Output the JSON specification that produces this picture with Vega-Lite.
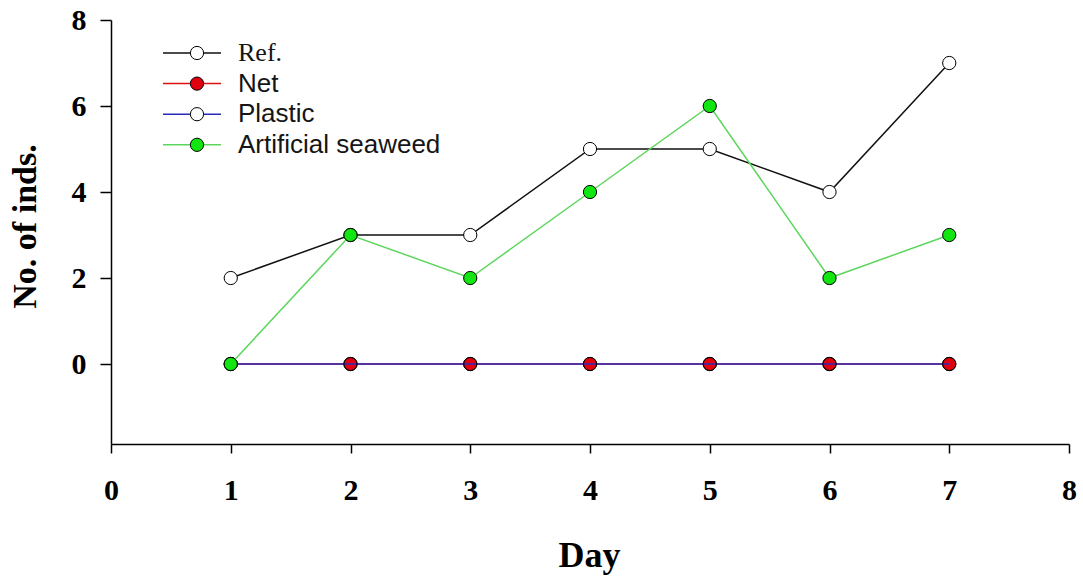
{
  "$schema": "https://vega.github.io/schema/vega-lite/v6.json",
  "autosize": {"type": "none"},
  "width": 958,
  "height": 424,
  "padding": {"left": 111, "top": 20, "right": 14, "bottom": 132},
  "background": "white",
  "config": {
    "view": {"stroke": null},
    "axis": {
      "grid": false,
      "domainColor": "black",
      "domainWidth": 1.5,
      "tickColor": "black",
      "tickWidth": 1.5,
      "labelFont": "Liberation Serif",
      "labelFontWeight": "bold",
      "labelFontSize": 30,
      "labelColor": "black",
      "titleFont": "Liberation Serif",
      "titleFontWeight": "bold",
      "titleColor": "black"
    }
  },
  "data": {
    "values": [
      {"day": 1, "count": 2, "series": "Ref."},
      {"day": 2, "count": 3, "series": "Ref."},
      {"day": 3, "count": 3, "series": "Ref."},
      {"day": 4, "count": 5, "series": "Ref."},
      {"day": 5, "count": 5, "series": "Ref."},
      {"day": 6, "count": 4, "series": "Ref."},
      {"day": 7, "count": 7, "series": "Ref."},
      {"day": 1, "count": 0, "series": "Net"},
      {"day": 2, "count": 0, "series": "Net"},
      {"day": 3, "count": 0, "series": "Net"},
      {"day": 4, "count": 0, "series": "Net"},
      {"day": 5, "count": 0, "series": "Net"},
      {"day": 6, "count": 0, "series": "Net"},
      {"day": 7, "count": 0, "series": "Net"},
      {"day": 1, "count": 0, "series": "Plastic"},
      {"day": 2, "count": 0, "series": "Plastic"},
      {"day": 3, "count": 0, "series": "Plastic"},
      {"day": 4, "count": 0, "series": "Plastic"},
      {"day": 5, "count": 0, "series": "Plastic"},
      {"day": 6, "count": 0, "series": "Plastic"},
      {"day": 7, "count": 0, "series": "Plastic"},
      {"day": 1, "count": 0, "series": "Artificial seaweed"},
      {"day": 2, "count": 3, "series": "Artificial seaweed"},
      {"day": 3, "count": 2, "series": "Artificial seaweed"},
      {"day": 4, "count": 4, "series": "Artificial seaweed"},
      {"day": 5, "count": 6, "series": "Artificial seaweed"},
      {"day": 6, "count": 2, "series": "Artificial seaweed"},
      {"day": 7, "count": 3, "series": "Artificial seaweed"}
    ]
  },
  "encoding": {
    "x": {
      "field": "day",
      "type": "quantitative",
      "scale": {"domain": [0, 8], "nice": false, "zero": false},
      "axis": {
        "title": "Day",
        "titleFontSize": 36,
        "titleX": 478,
        "titleY": 122,
        "titleBaseline": "alphabetic",
        "titleAlign": "center",
        "values": [0, 1, 2, 3, 4, 5, 6, 7, 8],
        "format": "d",
        "tickSize": 9,
        "labelPadding": 22,
        "labelFlush": false,
        "labelOverlap": false
      }
    },
    "y": {
      "field": "count",
      "type": "quantitative",
      "scale": {"domain": [-1.86, 8], "nice": false, "zero": false},
      "axis": {
        "title": "No. of inds.",
        "titleFontSize": 34,
        "titleAngle": -90,
        "titleX": -76,
        "titleY": 206,
        "titleBaseline": "alphabetic",
        "titleAlign": "center",
        "values": [0, 2, 4, 6, 8],
        "format": "d",
        "tickSize": 11,
        "labelPadding": 14,
        "labelFlush": false,
        "labelOverlap": false
      }
    }
  },
  "layer": [
    {
      "transform": [{"filter": "datum.series === 'Ref.' || datum.series === 'Net'"}],
      "mark": {"type": "line", "strokeWidth": 1.5},
      "encoding": {
        "stroke": {
          "field": "series",
          "type": "nominal",
          "scale": {
            "domain": ["Ref.", "Net", "Plastic", "Artificial seaweed"],
            "range": ["#111111", "#dd1111", "#2a2abb", "#5cd65c"]
          },
          "legend": {
            "title": null,
            "orient": "none",
            "legendX": 51,
            "legendY": 20,
            "padding": 0,
            "symbolType": "stroke",
            "symbolSize": 3364,
            "symbolStrokeWidth": 1.5,
            "clipHeight": 26,
            "rowPadding": 4.6,
            "labelOffset": 16,
            "labelLimit": 400,
            "labelFont": "Liberation Sans",
            "labelFontSize": 26,
            "labelColor": "#151515",
            "encode": {
              "labels": {
                "update": {
                  "font": {"signal": "datum.label === 'Ref.' ? 'Liberation Serif' : 'Liberation Sans'"}
                }
              }
            }
          }
        }
      }
    },
    {
      "transform": [{"filter": "datum.series === 'Ref.' || datum.series === 'Net'"}],
      "mark": {"type": "point", "shape": "circle", "filled": true, "size": 175, "stroke": "black", "strokeWidth": 1, "opacity": 1},
      "encoding": {
        "fill": {
          "field": "series",
          "type": "nominal",
          "scale": {
            "domain": ["Ref.", "Net", "Plastic", "Artificial seaweed"],
            "range": ["white", "#e00010", "white", "#11e611"]
          },
          "legend": {
            "title": null,
            "orient": "top-left",
            "offset": 20,
            "padding": 0,
            "symbolType": "circle",
            "symbolSize": 175,
            "symbolStrokeColor": "black",
            "symbolStrokeWidth": 1,
            "symbolOffset": 53,
            "clipHeight": 26,
            "rowPadding": 4.6,
            "labelFontSize": 26,
            "labelExpr": "''"
          }
        }
      }
    },
    {
      "transform": [{"filter": "datum.series === 'Plastic'"}],
      "mark": {"type": "line", "strokeWidth": 1.5},
      "encoding": {"stroke": {"field": "series", "type": "nominal"}}
    },
    {
      "transform": [{"filter": "datum.series === 'Plastic'"}],
      "mark": {"type": "point", "shape": "circle", "filled": false, "size": 175, "stroke": "black", "strokeWidth": 1, "fill": "transparent", "opacity": 1}
    },
    {
      "transform": [{"filter": "datum.series === 'Artificial seaweed'"}],
      "mark": {"type": "line", "strokeWidth": 1.5},
      "encoding": {"stroke": {"field": "series", "type": "nominal"}}
    },
    {
      "transform": [{"filter": "datum.series === 'Artificial seaweed'"}],
      "mark": {"type": "point", "shape": "circle", "filled": true, "size": 175, "stroke": "black", "strokeWidth": 1, "opacity": 1},
      "encoding": {"fill": {"field": "series", "type": "nominal"}}
    }
  ]
}
